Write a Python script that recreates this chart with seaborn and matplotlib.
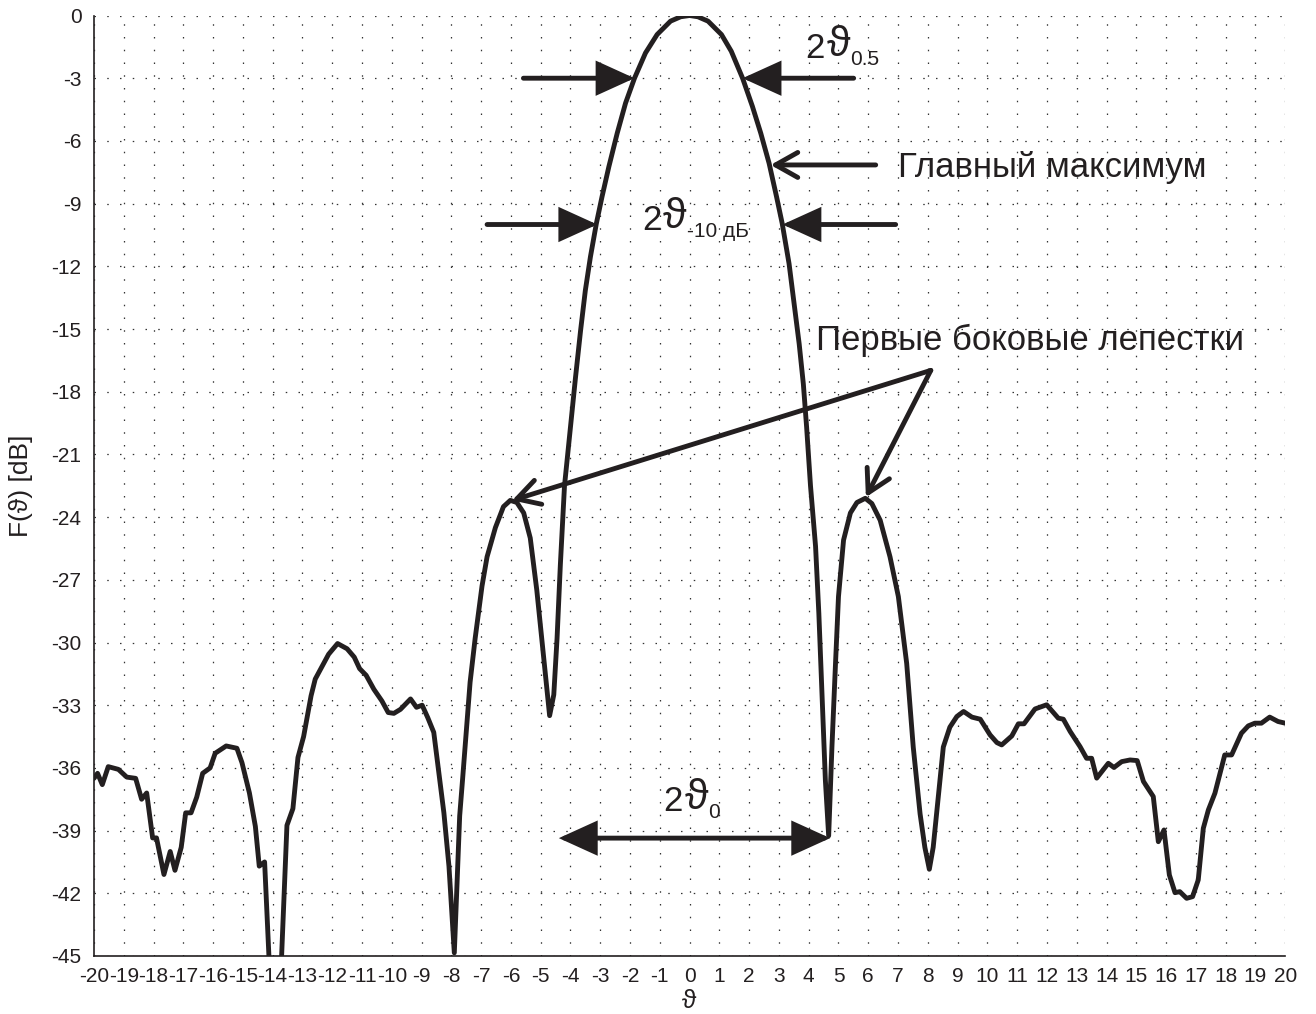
import matplotlib
matplotlib.use("Agg")
import matplotlib.pyplot as plt
import numpy as np
import pandas as pd
import seaborn as sns

# ---- data ----
theta = [
    -20.0, -19.88, -19.72, -19.52, -19.18, -18.9, -18.6, -18.4, -18.23, -18.03,
    -17.9, -17.65, -17.44, -17.28, -17.07, -16.92, -16.74, -16.55, -16.35, -16.1,
    -15.93, -15.56, -15.2, -15.03, -14.78, -14.58, -14.45, -14.27, -13.9, -13.52,
    -13.32, -13.15, -12.96, -12.71, -12.57, -12.12, -11.82, -11.5, -11.26, -11.08,
    -10.86, -10.6, -10.33, -10.12, -9.93, -9.71, -9.37, -9.17, -8.98, -8.79,
    -8.59, -8.25, -8.08, -7.9, -7.72, -7.62, -7.37, -7.2, -6.97, -6.8,
    -6.52, -6.25, -6.02, -5.8, -5.57, -5.35, -5.13, -4.9, -4.7, -4.56,
    -4.45, -4.34, -4.2, -4.0, -3.83, -3.66, -3.5, -3.33, -3.13, -2.94,
    -2.71, -2.43, -2.15, -1.85, -1.48, -1.09, -0.64, -0.3, 0.0, 0.28,
    0.62, 1.07, 1.4, 1.78, 2.11, 2.39, 2.67, 2.92, 3.11, 3.34,
    3.51, 3.68, 3.82, 3.93, 4.06, 4.23, 4.34, 4.45, 4.56, 4.67,
    4.78, 4.9, 5.0, 5.17, 5.4, 5.62, 5.9, 6.12, 6.4, 6.73,
    7.01, 7.29, 7.51, 7.74, 7.9, 8.05, 8.18, 8.35, 8.52, 8.74,
    8.975, 9.2, 9.48, 9.76, 10.09, 10.32, 10.48, 10.82, 11.04, 11.23,
    11.6, 11.99, 12.38, 12.55, 12.78, 13.11, 13.33, 13.5, 13.67, 14.06,
    14.25, 14.51, 14.79, 15.03, 15.24, 15.57, 15.74, 15.93, 16.11, 16.3,
    16.46, 16.69, 16.89, 17.08, 17.25, 17.42, 17.64, 17.97, 18.2, 18.53,
    18.76, 18.98, 19.2, 19.48, 19.76, 20.0,
]
F_db = [
    -36.5, -36.26, -36.8, -35.94, -36.07, -36.44, -36.5, -37.5, -37.2, -39.35,
    -39.35, -41.1, -40.0, -40.9, -39.8, -38.15, -38.15, -37.4, -36.26, -36.0,
    -35.3, -34.95, -35.06, -35.75, -37.2, -38.8, -40.7, -40.5, -52.0, -38.75,
    -37.95, -35.5, -34.5, -32.55, -31.75, -30.56, -30.05, -30.3, -30.7, -31.25,
    -31.57, -32.24, -32.8, -33.35, -33.39, -33.2, -32.7, -33.1, -33.0, -33.6,
    -34.3, -38.15, -40.7, -44.85, -38.3, -36.5, -31.9, -29.8, -27.3, -25.9,
    -24.5, -23.5, -23.2, -23.3, -23.8, -25.0, -27.5, -30.7, -33.5, -32.5,
    -29.8, -26.3, -22.5, -19.7, -17.31, -15.07, -13.15, -11.55, -9.95, -8.67,
    -7.23, -5.63, -4.19, -3.0, -1.79, -0.91, -0.27, -0.06, 0.0, -0.06,
    -0.27, -0.91, -1.71, -3.0, -4.35, -5.63, -7.07, -8.67, -9.95, -11.87,
    -13.79, -15.71, -17.63, -19.7, -22.5, -25.4, -28.6, -32.6, -36.6, -39.25,
    -35.0, -31.0, -27.8, -25.1, -23.8, -23.3, -23.1, -23.35, -24.15, -25.9,
    -27.8, -31.0, -35.0, -38.2, -39.8, -40.85, -39.8, -37.4, -35.0, -34.05,
    -33.54, -33.3, -33.57, -33.67, -34.42, -34.79, -34.9, -34.47, -33.89, -33.89,
    -33.18, -32.98, -33.62, -33.67, -34.26, -34.98, -35.54, -35.54, -36.49, -35.78,
    -35.98, -35.7, -35.62, -35.65, -36.65, -37.37, -39.53, -38.97, -41.12, -41.97,
    -41.92, -42.24, -42.16, -41.36, -38.89, -38.01, -37.21, -35.38, -35.38, -34.34,
    -33.99, -33.86, -33.86, -33.57, -33.78, -33.86,
]
x_ticks = list(range(-20, 21))
y_ticks = list(range(-45, 1, 3))

INK = '#231f20'

sns.set_theme(style="white")
plt.rcParams['font.family'] = ['Liberation Sans', 'DejaVu Sans']
plt.rcParams['text.color'] = INK

fig = plt.figure(figsize=(13.16, 10.14), dpi=100)
ax = fig.add_axes([0.0714, 0.0572, 0.9052, 0.9275])

df = pd.DataFrame({'theta': theta, 'F': F_db})
sns.lineplot(data=df, x='theta', y='F', ax=ax, color=INK, linewidth=3.5,
             estimator=None, sort=False, zorder=3)

ax.set_xlim(-20, 20)
ax.set_ylim(-45, 0)
ax.set_xticks(x_ticks)
ax.set_yticks(y_ticks)
ax.set_xticklabels([str(v) for v in x_ticks])
ax.set_yticklabels([str(v) for v in y_ticks])
ax.set_axisbelow(True)
ax.grid(True, color='#333333', linestyle=(0, (1.2, 9)), linewidth=0.9)

for s in ['top', 'right']:
    ax.spines[s].set_visible(False)
for s in ['left', 'bottom']:
    ax.spines[s].set_color(INK)
    ax.spines[s].set_linewidth(1.2)

ax.tick_params(axis='both', direction='in', length=9, width=1.0, colors=INK,
               labelsize=15, labelcolor=INK)
ax.tick_params(axis='x', pad=8)
ax.tick_params(axis='y', pad=9)

ax.set_xlabel('ϑ', fontsize=19, color=INK)
ax.xaxis.set_label_coords(0.5, -0.035)
ax.xaxis.label.set_va('top')
ax.set_ylabel('F(ϑ) [dB]', fontsize=19, color=INK)
ax.yaxis.set_label_coords(-0.051, 0.5)

# ---- annotations ----
filled = dict(arrowstyle='-|>,head_length=1.1,head_width=0.5', color=INK, lw=3.5,
              shrinkA=0, shrinkB=0, mutation_scale=20, joinstyle='miter')
opened = dict(arrowstyle='->,head_length=0.8,head_width=0.45', color=INK, lw=3.5,
              shrinkA=0, shrinkB=0, mutation_scale=20)
both = dict(arrowstyle='<|-|>,head_length=1.1,head_width=0.5', color=INK, lw=3.5,
            shrinkA=0, shrinkB=0, mutation_scale=20, joinstyle='miter')

ax.annotate('', xy=(-1.85, -3), xytext=(-5.58, -3), arrowprops=filled)
ax.annotate('', xy=(1.78, -3), xytext=(5.51, -3), arrowprops=filled)
ax.annotate('', xy=(-3.1, -10), xytext=(-6.8, -10), arrowprops=filled)
ax.annotate('', xy=(3.12, -10), xytext=(6.92, -10), arrowprops=filled)
ax.annotate('', xy=(2.72, -7.15), xytext=(6.25, -7.15), arrowprops=opened)
ax.annotate('', xy=(-5.96, -23.2), xytext=(8.1, -16.98), arrowprops=opened)
ax.annotate('', xy=(5.92, -23.05), xytext=(8.1, -16.98), arrowprops=opened)
ax.annotate('', xy=(4.72, -39.36), xytext=(-4.39, -39.36), arrowprops=both)


def theta_label(x, y, sub):
    t1 = ax.text(x, y, '2', fontsize=25, ha='left', va='baseline', color=INK)
    t2 = ax.annotate('ϑ', xy=(1, 0), xycoords=t1, xytext=(1, 0), textcoords='offset points',
                     fontsize=31, ha='left', va='bottom', color=INK)
    ax.annotate(sub, xy=(1, 0), xycoords=t2, xytext=(0, 0), textcoords='offset points',
                fontsize=15, ha='left', va='baseline', color=INK)


theta_label(3.9, -2.03, '0.5')
theta_label(-1.59, -10.26, '-10 дБ')
theta_label(-0.87, -38.08, '0')

ax.text(6.99, -7.71, 'Главный максимум', fontsize=25, ha='left', va='baseline', color=INK)
ax.text(4.24, -16.02, 'Первые боковые лепестки', fontsize=25, ha='left', va='baseline', color=INK)

fig.savefig('out.png', dpi=100, facecolor='white')
